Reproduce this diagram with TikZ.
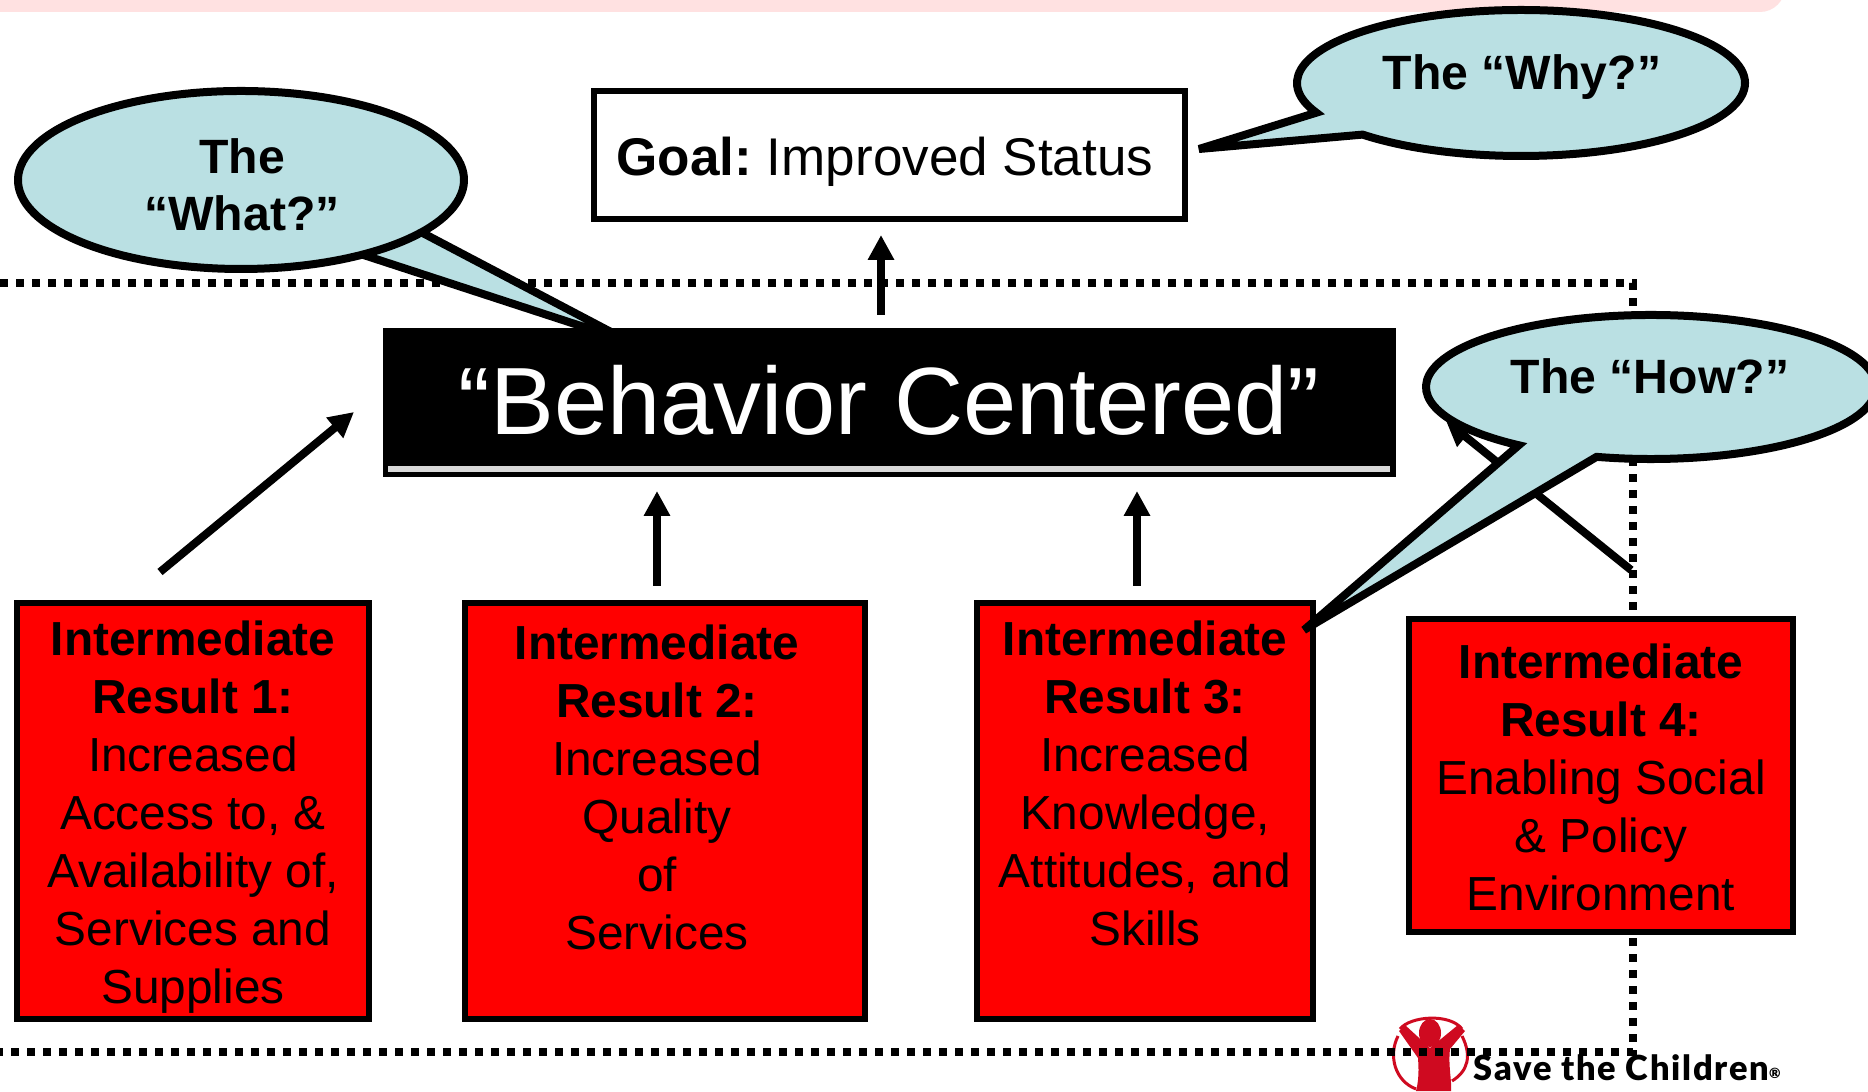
\documentclass[tikz,border=0pt]{standalone}
\usepackage{fontspec}
\setmainfont{Liberation Sans}
\newfontfamily\logofont[LetterSpace=5]{Lato Black}
\usetikzlibrary{arrows.meta}
\definecolor{calloutblue}{HTML}{BAE0E3}
\definecolor{barpink}{HTML}{FFE1E1}
\definecolor{logored}{HTML}{CF0A20}
\definecolor{bargray}{HTML}{D9D9D9}
\tikzset{
	irbox/.style={draw=black, fill=red, line width=0.06cm, minimum height=4.16cm},
	irtext/.style={anchor=north, align=center, inner sep=0pt, font=\fontsize{13.6}{16.5}\selectfont},
	flowarrow/.style={-{Triangle[length=0.25cm, width=0.25cm]}, line width=0.08cm},
	callout/.style={draw=black, fill=calloutblue, line width=0.08cm, line join=miter, miter limit=5},
	calloutfont/.style={inner sep=0pt, align=center, font=\bfseries\fontsize{13.7}{16.2}\selectfont}
}

\begin{document}
\begin{tikzpicture}
	\clip (0,0) rectangle (18.68,10.91);
	\fill[white] (0,0) rectangle (18.68,10.91);
	\fill[barpink, rounded corners=0.25cm] (-1,12) rectangle (17.85,10.79);

	% logo
	\fill[logored] (14.30,0.58) ellipse (0.11 and 0.14);
	\fill[logored] (13.99,0.60) -- (14.05,0.66) -- (14.30,0.43) -- (14.58,0.66) -- (14.65,0.60) -- (14.50,0.42)
		.. controls (14.48,0.25) and (14.52,0.10) .. (14.51,0) -- (14.16,0)
		.. controls (14.20,0.15) and (14.18,0.30) .. (14.18,0.33) -- cycle;
	\draw[logored, line width=0.03cm] (14.00,0.62) .. controls (14.10,0.75) and (14.50,0.78) .. (14.62,0.62);
	\draw[logored, line width=0.03cm] (13.98,0.55) .. controls (13.88,0.35) and (13.95,0.10) .. (14.16,0.02);
	\draw[logored, line width=0.03cm] (14.62,0.55) .. controls (14.72,0.35) and (14.68,0.20) .. (14.52,0.10);
	\node[anchor=base west, inner sep=0pt, font=\logofont\fontsize{9.8}{11}\selectfont] (logotext) at (14.73,0.11) {Save the Children\raisebox{0.1ex}{\fontsize{4}{5}\selectfont ®}};

	% dotted frame
	\draw[line width=0.08cm, dash pattern=on 0.08cm off 0.08cm] (0,8.08) -- (16.33,8.08) -- (16.33,0.39) -- (0,0.39);

	% named ends of the arrows
	\coordinate (goalin) at (8.81,8.56);
	\coordinate (goalout) at (8.81,7.76);
	\coordinate (ironeout) at (1.60,5.19);
	\coordinate (ironein) at (3.54,6.79);
	\coordinate (irtwoout) at (6.57,5.05);
	\coordinate (irtwoin) at (6.57,6.00);
	\coordinate (irthreeout) at (11.37,5.05);
	\coordinate (irthreein) at (11.37,6.00);
	\coordinate (irfourout) at (16.31,5.21);
	\coordinate (irfourin) at (14.46,6.70);
	\foreach \from/\to in {goalout/goalin, ironeout/ironein, irtwoout/irtwoin, irthreeout/irthreein, irfourout/irfourin}
		\draw[flowarrow] (\from) -- (\to);

	% goal
	\node[draw=black, fill=white, line width=0.06cm, minimum width=5.91cm, minimum height=1.28cm] (goal) at (8.89,9.36) {};
	\node[anchor=base, inner sep=0pt, font=\fontsize{15.1}{18}\selectfont] (goaltext) at (8.85,9.15) {\textbf{Goal:}\hspace{-0.05cm} Improved Status};

	% intermediate results
	\node[irbox, minimum width=3.52cm] (irone) at (1.93,2.80) {};
	\node[irbox, minimum width=4.00cm] (irtwo) at (6.65,2.80) {};
	\node[irbox, minimum width=3.36cm] (irthree) at (11.45,2.80) {};
	\node[irbox, minimum width=3.84cm, minimum height=3.13cm] (irfour) at (16.01,3.155) {};
	\node[irtext] (ironetext) at (1.93,4.704) {\textbf{Intermediate}\\\textbf{Result 1:}\\Increased\\Access to, \&\\Availability of,\\Services and\\Supplies};
	\node[irtext] (irtwotext) at (6.57,4.664) {\textbf{Intermediate}\\\textbf{Result 2:}\\Increased\\Quality\\of\\Services};
	\node[irtext] (irthreetext) at (11.45,4.704) {\textbf{Intermediate}\\\textbf{Result 3:}\\Increased\\Knowledge,\\Attitudes, and\\Skills};
	\node[irtext] (irfourtext) at (16.01,4.474) {\textbf{Intermediate}\\\textbf{Result 4:}\\Enabling Social\\\& Policy\\Environment};

	% the what
	\draw[callout] (2.41,9.11) ++(303:2.23 and 0.89) arc (303:684:2.23 and 0.89) -- (6.30,7.49) -- cycle;
	\node[calloutfont] (whattext) at (2.42,9.06) {The\\“What?”};

	% behavior
	\node[fill=black, minimum width=10.13cm, minimum height=1.49cm, inner sep=0pt] (behavior) at (8.89,6.88) {};
	\fill[bargray] (3.88,6.19) rectangle (13.90,6.25);
	\node[anchor=base, inner sep=0pt, text=white, font=\fontsize{27.2}{32}\selectfont] (behaviortext) at (8.89,6.56) {“Behavior Centered”};

	% the why
	\draw[callout] (15.21,10.08) ++(225:2.24 and 0.73) arc (225:564:2.24 and 0.73) -- (11.99,9.42) -- cycle;
	\node[calloutfont, anchor=base] (whytext) at (15.22,10.01) {The “Why?”};

	% the how
	\draw[callout] (16.51,7.04) ++(256:2.25 and 0.72) arc (256:594:2.25 and 0.72) -- (13.04,4.61) -- cycle;
	\node[calloutfont, anchor=base] (howtext) at (16.50,6.97) {The “How?”};
\end{tikzpicture}
\end{document}
